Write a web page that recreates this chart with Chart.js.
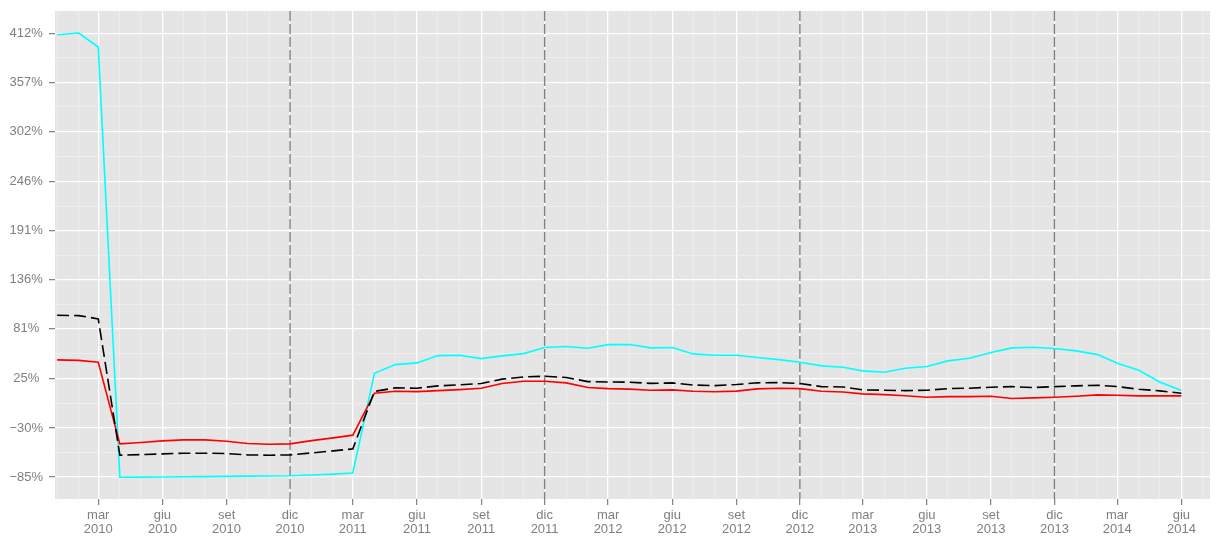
<!DOCTYPE html>
<html>
<head>
<meta charset="utf-8">
<title>Variazione</title>
<script src="https://cdn.jsdelivr.net/npm/chart.js@4.4.0/dist/chart.umd.min.js"></script>
<style>
  html, body { margin: 0; padding: 0; background: #ffffff; }
  #wrap { width: 1221px; height: 536px; }
</style>
</head>
<body>
<div id="wrap"><canvas id="chart" width="1221" height="536"></canvas></div>
<script>
// dati mensili: gen 2010 - giu 2014
const startYear = 2010;
const monthNames = ['gen', 'feb', 'mar', 'apr', 'mag', 'giu', 'lug', 'ago', 'set', 'ott', 'nov', 'dic'];

const cyanValues = [
  410.4, 412.3, 396.7, -85.1, -85.0, -84.8, -84.6, -84.4, -84.2, -83.9, -83.7, -83.5,
  -82.6, -81.6, -80.3, 31.2, 41.0, 42.9, 51.1, 51.5, 47.7, 50.8, 53.3, 60.1,
  61.2, 59.3, 63.4, 63.6, 59.7, 60.1, 53.0, 51.5, 51.5, 48.9, 46.6, 43.7,
  39.6, 38.1, 34.0, 32.5, 37.0, 38.8, 45.2, 48.1, 54.5, 59.7, 60.5, 59.0,
  56.4, 52.2, 42.5, 34.7, 21.6, 11.9
];
const redValues = [
  46.3, 45.7, 43.7, -47.8, -46.3, -44.4, -43.3, -43.3, -44.8, -47.4, -48.2, -47.8,
  -44.1, -41.0, -38.0, 9.0, 11.2, 10.8, 11.9, 13.0, 14.6, 19.8, 22.4, 22.4,
  20.5, 15.3, 14.1, 13.6, 12.3, 12.7, 11.2, 10.6, 11.3, 13.8, 14.6, 14.1,
  11.2, 10.4, 8.2, 7.4, 6.1, 4.5, 5.2, 5.2, 5.6, 3.0, 3.7, 4.5,
  5.6, 7.1, 6.7, 6.0, 6.0, 6.0
];
const blackValues = [
  96.3, 95.9, 92.2, -60.5, -59.8, -59.0, -58.2, -58.2, -58.6, -60.1, -60.5, -60.1,
  -57.9, -55.6, -53.4, 11.0, 14.9, 14.6, 17.2, 18.3, 19.8, 24.7, 27.2, 28.0,
  26.5, 22.0, 21.6, 21.3, 20.0, 20.5, 18.1, 17.5, 18.7, 20.6, 20.9, 19.8,
  16.4, 16.0, 12.7, 12.3, 11.9, 12.3, 14.1, 14.6, 15.7, 16.4, 15.3, 16.4,
  17.2, 17.9, 16.4, 13.4, 11.6, 9.0
];

// tacche asse y (etichette in %)
const yTickValues = [-85, -30, 25, 81, 136, 191, 246, 302, 357, 412];
// mesi con etichetta sull'asse x
const xMajorMonths = [2, 5, 8, 11];
// linee verticali tratteggiate (dicembre)
const dashedLineDates = [[2010, 11], [2011, 11], [2012, 11], [2013, 11]];

// giorni dal 1 gen 2010
function dayOf(year, month) {
  return (Date.UTC(year, month, 1) - Date.UTC(startYear, 0, 1)) / 86400000;
}

const seriesPoints = (values) => values.map((v, i) => ({
  x: dayOf(startYear + Math.floor(i / 12), i % 12),
  y: v
}));

// tacche mensili x (minori + maggiori)
const xTicks = [];
const xTickInfo = {};
for (let y = 2009; y <= 2014; y++) {
  for (let m = 0; m < 12; m++) {
    const d = dayOf(y, m);
    xTicks.push(d);
    xTickInfo[d] = { major: xMajorMonths.includes(m), label: [monthNames[m], String(y)] };
  }
}

const yTicks = [];
yTickValues.forEach((v, i) => {
  yTicks.push(v);
  if (i < yTickValues.length - 1) yTicks.push((v + yTickValues[i + 1]) / 2);
});
const yMajorSet = new Set(yTickValues);

const xMin = -3, xMax = 1653;
const yMin = -109.5, yMax = 437;

const isXMajor = (v) => xTickInfo[v] && xTickInfo[v].major;

const panelPlugin = {
  id: 'panel',
  beforeDraw(chart) {
    const a = chart.chartArea;
    const ctx = chart.ctx;
    ctx.save();
    ctx.fillStyle = '#E5E5E5';
    ctx.fillRect(a.left, a.top, a.right - a.left, a.bottom - a.top);
    ctx.restore();
  },
  beforeDatasetsDraw(chart) {
    const a = chart.chartArea;
    const ctx = chart.ctx;
    ctx.save();
    ctx.strokeStyle = '#808080';
    ctx.lineWidth = 1.4;
    ctx.setLineDash([10, 3]);
    dashedLineDates.forEach(([y, m]) => {
      const x = chart.scales.x.getPixelForValue(dayOf(y, m));
      ctx.beginPath();
      ctx.moveTo(x, a.top);
      ctx.lineTo(x, a.bottom);
      ctx.stroke();
    });
    ctx.restore();
  }
};

const config = {
  type: 'line',
  data: {
    datasets: [
      {
        label: 'nero',
        data: seriesPoints(blackValues),
        borderColor: '#000000',
        borderWidth: 1.6,
        borderDash: [12, 5],
        order: 0
      },
      {
        label: 'rosso',
        data: seriesPoints(redValues),
        borderColor: '#FF0000',
        borderWidth: 1.6,
        order: 1
      },
      {
        label: 'ciano',
        data: seriesPoints(cyanValues),
        borderColor: '#00FFFF',
        borderWidth: 1.6,
        order: 2
      }
    ]
  },
  options: {
    responsive: false,
    animation: false,
    devicePixelRatio: 1,
    layout: { padding: { top: 11, right: 11, left: 0, bottom: 0 } },
    elements: { point: { radius: 0 }, line: { tension: 0 } },
    plugins: {
      legend: { display: false },
      tooltip: { enabled: false }
    },
    scales: {
      x: {
        type: 'linear',
        min: xMin,
        max: xMax,
        afterBuildTicks(scale) {
          scale.ticks = xTicks.filter(v => v >= xMin && v <= xMax).map(v => ({ value: v }));
        },
        afterFit(scale) {
          scale.height = 37;
          scale.paddingLeft = 0;
          scale.paddingRight = 0;
        },
        border: { display: false },
        grid: {
          color: (c) => (c.tick && isXMajor(c.tick.value)) ? '#FFFFFF' : '#F2F2F2',
          lineWidth: (c) => (c.tick && isXMajor(c.tick.value)) ? 1.3 : 0.6,
          tickColor: (c) => (c.tick && isXMajor(c.tick.value)) ? '#7F7F7F' : 'rgba(0,0,0,0)',
          tickLength: 6,
          tickWidth: 1.2
        },
        ticks: {
          autoSkip: false,
          maxRotation: 0,
          minRotation: 0,
          padding: 3,
          color: '#7F7F7F',
          font: { family: 'Liberation Sans, Arial, sans-serif', size: 13, lineHeight: 1.08 },
          callback: (v) => isXMajor(v) ? xTickInfo[v].label : ''
        }
      },
      y: {
        type: 'linear',
        min: yMin,
        max: yMax,
        afterBuildTicks(scale) {
          scale.ticks = yTicks.filter(v => v >= yMin && v <= yMax).map(v => ({ value: v }));
        },
        afterFit(scale) {
          scale.width = 55;
          scale.paddingTop = 0;
          scale.paddingBottom = 0;
        },
        border: { display: false },
        grid: {
          color: (c) => (c.tick && yMajorSet.has(c.tick.value)) ? '#FFFFFF' : '#F2F2F2',
          lineWidth: (c) => (c.tick && yMajorSet.has(c.tick.value)) ? 1.3 : 0.6,
          tickColor: (c) => (c.tick && yMajorSet.has(c.tick.value)) ? '#7F7F7F' : 'rgba(0,0,0,0)',
          tickLength: 6,
          tickWidth: 1.2
        },
        ticks: {
          autoSkip: false,
          crossAlign: 'center',
          padding: 6,
          color: '#7F7F7F',
          font: { family: 'Liberation Sans, Arial, sans-serif', size: 13 },
          callback: (v) => yMajorSet.has(v) ? String(v).replace('-', '\u2212') + '%' : ''
        }
      }
    }
  },
  plugins: [panelPlugin]
};

const chart = new Chart(document.getElementById('chart'), config);
</script>
</body>
</html>
